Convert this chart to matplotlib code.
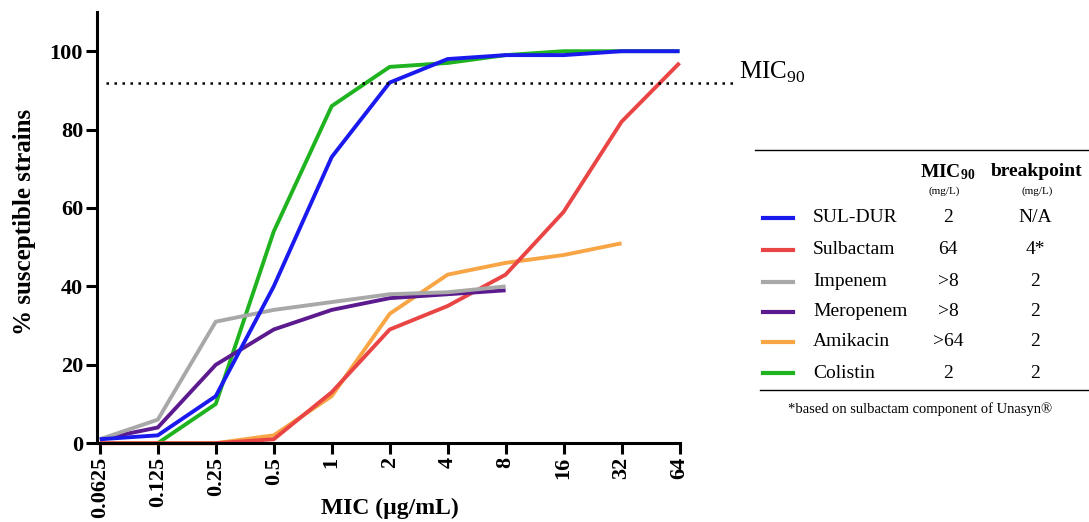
import matplotlib
matplotlib.use("Agg")
import matplotlib.pyplot as plt
from matplotlib.lines import Line2D

plt.rcParams['font.family'] = ['Liberation Serif', 'DejaVu Serif']
plt.rcParams['mathtext.fontset'] = 'custom'
plt.rcParams['mathtext.rm'] = 'Liberation Serif'
plt.rcParams['mathtext.bf'] = 'Liberation Serif:bold'

# MIC concentrations (ug/mL)
mic = [0.0625, 0.125, 0.25, 0.5, 1, 2, 4, 8, 16, 32, 64]
mic_labels = ['0.0625', '0.125', '0.25', '0.5', '1', '2', '4', '8', '16', '32', '64']

# cumulative % susceptible strains
sul_dur = [1, 2, 12, 40, 73, 92, 98, 99, 99, 100, 100]
sulbactam = [0, 0, 0, 1, 13, 29, 35, 43, 59, 82, 97]
impenem = [1, 6, 31, 34, 36, 38, 38.5, 40]
meropenem = [1, 4, 20, 29, 34, 37, 38, 39]
amikacin = [0, 0, 0, 2, 12, 33, 43, 46, 48, 51]
colistin = [0, 10, 54, 86, 96, 97, 99, 100, 100, 100]
colistin_x = [0.125, 0.25, 0.5, 1, 2, 4, 8, 16, 32, 64]

mic90_level = 92

drugs = ['SUL-DUR', 'Sulbactam', 'Impenem', 'Meropenem', 'Amikacin', 'Colistin']
mic90_vals = ['2', '64', '>8', '>8', '>64', '2']
breakpoints = ['N/A', '4*', '2', '2', '2', '2']
colors = ['#1a1aee', '#ea4545', '#a8a8a8', '#5c1a8f', '#f8a545', '#1fb31f']

series = {
    'SUL-DUR': sul_dur, 'Sulbactam': sulbactam, 'Impenem': impenem,
    'Meropenem': meropenem, 'Amikacin': amikacin, 'Colistin': colistin,
}

fig = plt.figure(figsize=(10.89, 5.22), dpi=100)
ax = fig.add_axes([0.089, 0.151, 0.535, 0.826])

lw = 2.8
draw_order = ['Colistin', 'Amikacin', 'Sulbactam', 'Meropenem', 'Impenem', 'SUL-DUR']
for name in draw_order:
    c = colors[drugs.index(name)]
    y = series[name]
    x = colistin_x if name == 'Colistin' else mic[:len(y)]
    ax.plot(x, y, color=c, lw=lw, solid_capstyle='butt', clip_on=False)

ax.set_xscale('log', base=2)
ax.set_xlim(0.0625 * 2 ** -0.05, 64)
ax.set_ylim(0, 110)
ax.set_xticks(mic)
ax.set_xticklabels(mic_labels, rotation=90)
ax.minorticks_off()
ax.set_yticks([0, 20, 40, 60, 80, 100])

# MIC90 reference line
ax.plot([0.0625 * 2 ** 0.1, 64 * 2 ** 0.95], [mic90_level, mic90_level], color='black',
        lw=1.8, ls=(0, (1, 2.2)), clip_on=False)
ax.text(64 * 2 ** 1.03, mic90_level + 2.5, 'MIC$_{90}$', fontsize=18, va='center', ha='left')

for s in ['top', 'right']:
    ax.spines[s].set_visible(False)
for s in ['left', 'bottom']:
    ax.spines[s].set_linewidth(2.2)
ax.tick_params(width=2.2, length=8, labelsize=16, pad=2)
for lab in ax.get_xticklabels() + ax.get_yticklabels():
    lab.set_fontweight('bold')

fig.text(390 / 1089, 1 - 508 / 522, 'MIC (\u00b5g/mL)', fontsize=17, fontweight='bold',
         ha='center', va='center')
fig.text(25 / 1089, 1 - 222 / 522, '% susceptible strains', fontsize=18, fontweight='bold',
         rotation=90, ha='center', va='center')

# side table
fig.add_artist(Line2D([0.693, 1.0], [1 - 150 / 522, 1 - 150 / 522], color='black', lw=1))
fig.add_artist(Line2D([0.698, 1.0], [1 - 390 / 522, 1 - 390 / 522], color='black', lw=1))

col_mic = 948 / 1089
col_bp = 1037 / 1089
fig.text(col_mic, 1 - 172 / 522, r'$\mathbf{MIC_{90}}$', fontsize=14, ha='center', va='center')
fig.text(col_bp, 1 - 172 / 522, 'breakpoint', fontsize=14, fontweight='bold', ha='center', va='center')
fig.text(944 / 1089, 1 - 191 / 522, '(mg/L)', fontsize=8, ha='center', va='center')
fig.text(col_bp, 1 - 191 / 522, '(mg/L)', fontsize=8, ha='center', va='center')

row_y = [218, 250, 282, 312, 342, 373]
for i, name in enumerate(drugs):
    yy = 1 - row_y[i] / 522
    fig.add_artist(Line2D([763 / 1089, 793 / 1089], [yy, yy], color=colors[i], lw=3))
    fig.text(813 / 1089, yy, name, fontsize=14, ha='left', va='center')
    fig.text(col_mic, yy, mic90_vals[i], fontsize=14, ha='center', va='center')
    fig.text(1035 / 1089, yy, breakpoints[i], fontsize=14, ha='center', va='center')

fig.text(920 / 1089, 1 - 409 / 522, '*based on sulbactam component of Unasyn\u00ae',
         fontsize=10.5, ha='center', va='center')

fig.savefig('out.png', dpi=100)
